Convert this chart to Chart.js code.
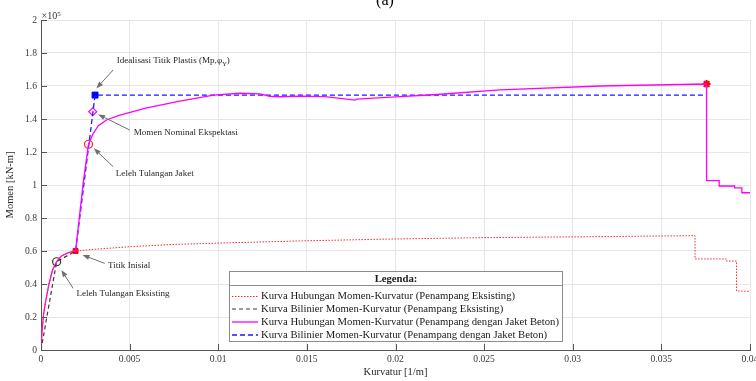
<!DOCTYPE html>
<html><head><meta charset="utf-8">
<script src="https://cdn.jsdelivr.net/npm/chart.js@4"></script>
<style>
html,body{margin:0;padding:0;overflow:hidden;background:#fff;width:756px;height:381px}
#c{position:absolute;left:0;top:0}
</style></head>
<body><canvas id="c" width="770" height="381"></canvas>
<script>
// ---- tick values ----
const xTicks = [0, 0.005, 0.01, 0.015, 0.02, 0.025, 0.03, 0.035, 0.04];
const yTicks = [0, 0.2, 0.4, 0.6, 0.8, 1, 1.2, 1.4, 1.6, 1.8, 2];

// ---- Existing section: moment-curvature (moment in x10^5 kN-m) ----
const exCurvX = [0, 0.00006, 0.00015, 0.00027, 0.00045, 0.00065, 0.00088, 0.00116, 0.00154, 0.00195,
  0.003, 0.005, 0.0075, 0.0107, 0.015, 0.02, 0.025, 0.0316, 0.0369, 0.0369, 0.03866, 0.03866, 0.03924, 0.03924, 0.04];
const exMomY = [0, 0.12, 0.22, 0.30, 0.40, 0.485, 0.535, 0.57, 0.59, 0.6,
  0.61, 0.626, 0.64, 0.65, 0.662, 0.673, 0.681, 0.687, 0.693, 0.552, 0.552, 0.539, 0.539, 0.358, 0.355];

// ---- Existing section: bilinear ----
const exBiX = [0, 0.00088, 0.00195];
const exBiY = [0, 0.535, 0.6];

// ---- Jacketed section: moment-curvature ----
const jkCurvX = [0, 0.00006, 0.00015, 0.00027, 0.00045, 0.00065, 0.00088, 0.00116, 0.00154, 0.00195,
  0.00239, 0.00268, 0.00295, 0.00324, 0.00369, 0.00445, 0.00597, 0.00783, 0.00973, 0.01122, 0.01235,
  0.0129, 0.0135, 0.01463, 0.0160, 0.01688, 0.01773, 0.0178, 0.02025, 0.02213, 0.0259, 0.03156, 0.03755,
  0.03755, 0.03826, 0.03826, 0.03913, 0.03913, 0.03954, 0.03954, 0.04];
const jkMomY = [0, 0.12, 0.22, 0.30, 0.40, 0.485, 0.535, 0.57, 0.59, 0.6,
  1.02, 1.247, 1.313, 1.36, 1.394, 1.424, 1.468, 1.509, 1.545, 1.556, 1.552,
  1.538, 1.535, 1.539, 1.536, 1.525, 1.515, 1.521, 1.535, 1.547, 1.576, 1.6, 1.612,
  1.026, 1.026, 0.994, 0.994, 0.982, 0.982, 0.953, 0.953];

// ---- Jacketed section: bilinear ----
const jkBiX = [0.00195, 0.00305, 0.03755];
const jkBiY = [0.6, 1.545, 1.545];

// ---- Key points ----
const ptInisial = [0.00195, 0.6];
const ptLelehEks = [0.00088, 0.535];
const ptLelehJkt = [0.00268, 1.247];
const ptNominal = [0.00292, 1.444];
const ptPlastis = [0.00305, 1.545];
const ptUltimate = [0.03755, 1.612];

const legendLabels = [
  'Kurva Hubungan Momen-Kurvatur (Penampang Eksisting)',
  'Kurva Bilinier Momen-Kurvatur (Penampang Eksisting)',
  'Kurva Hubungan Momen-Kurvatur (Penampang dengan Jaket Beton)',
  'Kurva Bilinier Momen-Kurvatur (Penampang dengan Jaket Beton)'
];

const FONT = "'Liberation Serif','Times New Roman',serif";
const zip = (xs, ys) => xs.map((v, i) => ({x: v, y: ys[i]}));
const pt = p => [{x: p[0], y: p[1]}];

function lineDs(label, xs, ys, color, dash, width) {
  return {label, data: zip(xs, ys), showLine: true, borderColor: color, backgroundColor: color,
    borderDash: dash, borderWidth: width, pointRadius: 0, pointHoverRadius: 0, tension: 0, inLegend: true};
}
function markDs(p, style, radius, stroke, fill, bw) {
  return {data: pt(p), showLine: false, pointStyle: style, pointRadius: radius, pointBorderColor: stroke,
    pointBackgroundColor: fill, pointBorderWidth: bw, borderColor: stroke, backgroundColor: fill, inLegend: false};
}

const datasets = [
  lineDs(legendLabels[0], exCurvX, exMomY, '#ff2a2a', [1.5, 1.5], 1),
  lineDs(legendLabels[1], exBiX, exBiY, '#3a3a3a', [4, 3], 1.2),
  lineDs(legendLabels[2], jkCurvX, jkMomY, '#ff00ff', [], 1.3),
  lineDs(legendLabels[3], jkBiX, jkBiY, '#1a1aff', [5, 3], 1.3),
  markDs(ptInisial, 'rect', 3.5, '#ff0000', '#ff0000', 1),
  markDs(ptLelehEks, 'circle', 4, '#333333', 'rgba(0,0,0,0)', 1.2),
  markDs(ptLelehJkt, 'circle', 4, '#ff2020', 'rgba(0,0,0,0)', 1.2),
  markDs(ptNominal, 'rectRot', 4, '#ff00ff', '#ffffff', 1.2),
  markDs(ptPlastis, 'rect', 4.2, '#0000ff', '#0000ff', 1),
  markDs(ptUltimate, 'star', 4, '#ff0000', '#ff0000', 2)
];

// annotation layout (data-space anchors)
const annots = [
  {parts: [['Idealisasi Titik Plastis (Mp,φ', 0], ['Y', 1], [')', 0]], tx: 0.00427, ty: 1.752, ax: 0.00407, ay: 1.697, bx: 0.00312, by: 1.585},
  {parts: [['Momen Nominal Ekspektasi', 0]], tx: 0.00523, ty: 1.319, ax: 0.00501, ay: 1.333, bx: 0.00322, by: 1.428},
  {parts: [['Leleh Tulangan Jaket', 0]], tx: 0.00422, ty: 1.071, ax: 0.00407, ay: 1.111, bx: 0.00298, by: 1.222},
  {parts: [['Titik Inisial', 0]], tx: 0.00378, ty: 0.509, ax: 0.0036, ay: 0.525, bx: 0.00234, by: 0.576},
  {parts: [['Leleh Tulangan Eksisting', 0]], tx: 0.0020, ty: 0.339, ax: 0.00181, ay: 0.374, bx: 0.00115, by: 0.485}
];

function arrow(ctx, x1, y1, x2, y2) {
  ctx.strokeStyle = '#6e6e6e'; ctx.fillStyle = '#6e6e6e'; ctx.lineWidth = 1; ctx.setLineDash([]);
  const a = Math.atan2(y2 - y1, x2 - x1), L = 7, W = 2.6;
  const bx = x2 - L * Math.cos(a), by = y2 - L * Math.sin(a);
  ctx.beginPath(); ctx.moveTo(x1, y1); ctx.lineTo(bx, by); ctx.stroke();
  ctx.beginPath(); ctx.moveTo(x2, y2);
  ctx.lineTo(bx + W * Math.sin(a), by - W * Math.cos(a));
  ctx.lineTo(bx - W * Math.sin(a), by + W * Math.cos(a));
  ctx.closePath(); ctx.fill();
}

const decor = {
  id: 'decor',
  afterDatasetsDraw(chart) {
    const {ctx, chartArea: ca, scales: {x, y}} = chart;
    ctx.save();
    // inward ticks
    ctx.strokeStyle = '#555'; ctx.lineWidth = 1; ctx.setLineDash([]);
    ctx.beginPath();
    xTicks.forEach(v => { const px = Math.round(x.getPixelForValue(v)) + 0.5; ctx.moveTo(px, ca.bottom); ctx.lineTo(px, ca.bottom - 6); });
    yTicks.forEach(v => { const py = Math.round(y.getPixelForValue(v)) + 0.5; ctx.moveTo(ca.left, py); ctx.lineTo(ca.left + 6, py); });
    ctx.stroke();

    // annotations
    annots.forEach(a => {
      arrow(ctx, x.getPixelForValue(a.ax), y.getPixelForValue(a.ay), x.getPixelForValue(a.bx), y.getPixelForValue(a.by));
      let px = x.getPixelForValue(a.tx); const py = y.getPixelForValue(a.ty);
      ctx.fillStyle = '#262626'; ctx.textAlign = 'left'; ctx.textBaseline = 'middle';
      a.parts.forEach(([t, sub]) => {
        ctx.font = (sub ? '6.5px ' : '9.1px ') + FONT;
        ctx.fillText(t, px, sub ? py + 3 : py);
        px += ctx.measureText(t).width;
      });
    });

    // legend
    const L = {left: 229.5, right: 562.5, top: 271.5, sep: 285.5, bottom: 341.5, rows: [296.5, 309, 322, 335], sx0: 232, sx1: 258, tx: 261};
    ctx.fillStyle = '#fff';
    ctx.fillRect(L.left, L.top, L.right - L.left, L.bottom - L.top);
    ctx.strokeStyle = '#8c8c8c'; ctx.lineWidth = 1;
    ctx.strokeRect(L.left, L.top, L.right - L.left, L.bottom - L.top);
    ctx.beginPath(); ctx.moveTo(L.left, L.sep); ctx.lineTo(L.right, L.sep); ctx.stroke();
    ctx.fillStyle = '#1a1a1a'; ctx.font = 'bold 10.7px ' + FONT; ctx.textAlign = 'center'; ctx.textBaseline = 'middle';
    ctx.fillText('Legenda:', (L.left + L.right) / 2, (L.top + L.sep) / 2 + 0.5);
    let r = 0;
    chart.data.datasets.forEach(ds => {
      if (!ds.inLegend) return;
      const yy = L.rows[r++];
      ctx.strokeStyle = ds.borderColor; ctx.lineWidth = ds.borderWidth; ctx.setLineDash(ds.borderDash || []);
      ctx.beginPath(); ctx.moveTo(L.sx0, yy); ctx.lineTo(L.sx1, yy); ctx.stroke();
      ctx.setLineDash([]);
      ctx.fillStyle = '#1a1a1a'; ctx.font = '10.7px ' + FONT; ctx.textAlign = 'left';
      ctx.fillText(ds.label, L.tx, yy);
    });

    // exponent label
    ctx.fillStyle = '#333'; ctx.textAlign = 'left'; ctx.textBaseline = 'alphabetic';
    ctx.font = '10px ' + FONT; ctx.fillText('×10', ca.left + 0.5, ca.top - 1);
    const w = ctx.measureText('×10').width;
    ctx.font = '7px ' + FONT; ctx.fillText('5', ca.left + 0.5 + w, ca.top - 4.5);

    // panel title (cut by top edge)
    ctx.fillStyle = '#000'; ctx.font = '16px ' + FONT; ctx.textAlign = 'center';
    ctx.fillText('(a)', 385, 5);
    ctx.restore();
  }
};

const fmt = v => parseFloat(Number(v).toFixed(4)).toString();

new Chart(document.getElementById('c'), {
  type: 'scatter',
  data: {datasets},
  options: {
    responsive: false, animation: false, devicePixelRatio: 1,
    layout: {padding: {top: 20, right: 20, left: 0, bottom: 0}},
    plugins: {legend: {display: false}, tooltip: {enabled: false}, title: {display: false}},
    elements: {line: {tension: 0}},
    scales: {
      x: {
        type: 'linear', min: 0, max: 0.04,
        afterBuildTicks: s => { s.ticks = xTicks.map(v => ({value: v})); },
        afterFit: s => { s.height = 31; },
        ticks: {callback: fmt, padding: 4, color: '#3a3a3a', font: {family: FONT, size: 9.6}, maxRotation: 0, autoSkip: false},
        grid: {color: '#e6e6e6', drawTicks: false, lineWidth: 1},
        border: {display: true, color: '#555', width: 1},
        title: {display: true, text: 'Kurvatur [1/m]', color: '#262626', font: {family: FONT, size: 10.5}, padding: {top: 0, bottom: 2.5}}
      },
      y: {
        type: 'linear', min: 0, max: 2,
        afterBuildTicks: s => { s.ticks = yTicks.map(v => ({value: v})); },
        afterFit: s => { s.width = 41; },
        ticks: {callback: fmt, padding: 4, color: '#3a3a3a', font: {family: FONT, size: 9.6}, autoSkip: false},
        grid: {color: '#e6e6e6', drawTicks: false, lineWidth: 1},
        border: {display: true, color: '#555', width: 1},
        title: {display: true, text: 'Momen [kN-m]', color: '#262626', font: {family: FONT, size: 10.5}, padding: {top: 3.5, bottom: 0}}
      }
    }
  },
  plugins: [decor]
});
</script>
</body></html>
